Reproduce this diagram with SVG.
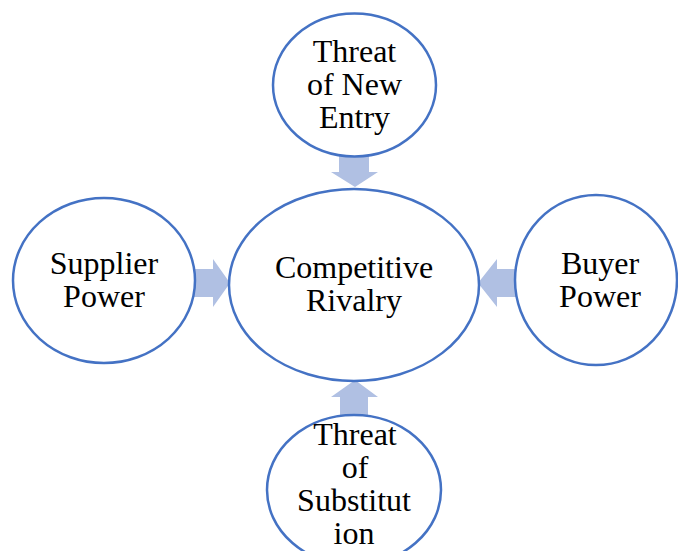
<svg xmlns="http://www.w3.org/2000/svg" width="678" height="551" viewBox="0 0 678 551">
  <style>
    .node { fill: #ffffff; stroke: #4472C4; stroke-width: 2.5; }
    .label { font-family: "Liberation Serif", "Times New Roman", serif; font-size: 32px; fill: #000000; text-anchor: middle; }
    .arrow { fill: #B0C0E3; stroke: none; }
  </style>
  <rect width="678" height="551" fill="#ffffff"/>

  <!-- block arrows pointing into the centre -->
  <g id="connectors">
    <!-- from top -->
    <polygon class="arrow" points="339,155 369,155 369,172 378,172 355,187 331,172 339,172"/>
    <!-- from left -->
    <polygon class="arrow" points="194,269 213,269 213,259 230,283 213,307 213,297 194,297"/>
    <!-- from right -->
    <polygon class="arrow" points="516,269 497,269 497,259 478,283 497,307 497,297 516,297"/>
    <!-- from bottom -->
    <polygon class="arrow" points="340,415 368,415 368,397 378,397 355,380 331,397 340,397"/>
  </g>

  <g id="competitive-rivalry">
    <ellipse class="node" cx="354" cy="285" rx="125" ry="96"/>
    <text class="label" x="354" y="278">Competitive</text>
    <text class="label" x="354" y="311">Rivalry</text>
  </g>

  <g id="threat-new-entry">
    <ellipse class="node" cx="354.5" cy="85" rx="81.5" ry="71.5"/>
    <text class="label" x="354.5" y="62">Threat</text>
    <text class="label" x="354.5" y="95">of New</text>
    <text class="label" x="354.5" y="128">Entry</text>
  </g>

  <g id="supplier-power">
    <ellipse class="node" cx="104" cy="280.5" rx="91" ry="82.5"/>
    <text class="label" x="104" y="274">Supplier</text>
    <text class="label" x="104" y="307">Power</text>
  </g>

  <g id="buyer-power">
    <ellipse class="node" cx="596" cy="280" rx="81" ry="85"/>
    <text class="label" x="600" y="274">Buyer</text>
    <text class="label" x="600" y="307">Power</text>
  </g>

  <g id="threat-substitution">
    <ellipse class="node" cx="354" cy="490" rx="87" ry="75"/>
    <text class="label" x="355" y="445">Threat</text>
    <text class="label" x="355" y="478">of</text>
    <text class="label" x="354" y="511">Substitut</text>
    <text class="label" x="354" y="544">ion</text>
  </g>
</svg>
